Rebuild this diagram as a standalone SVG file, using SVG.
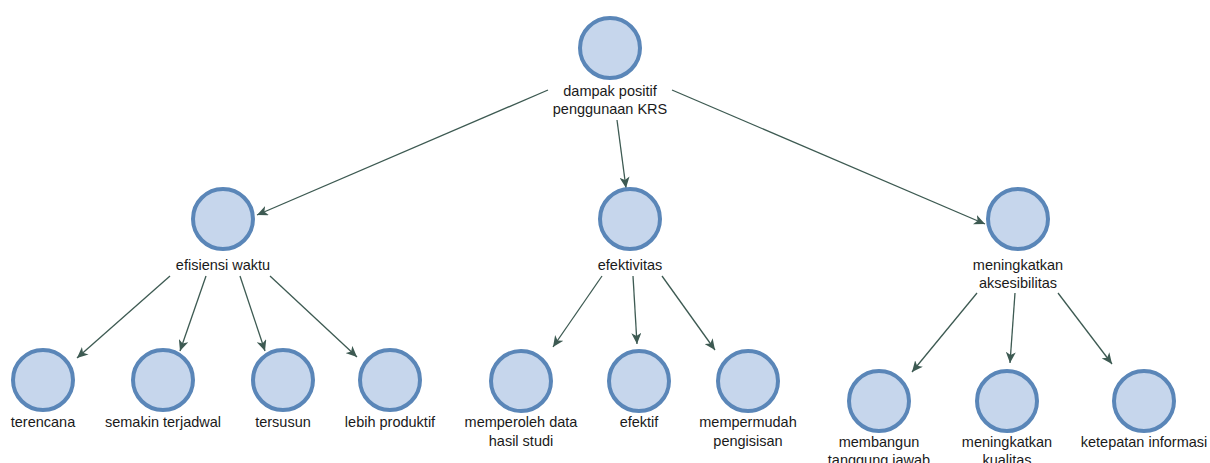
<svg xmlns="http://www.w3.org/2000/svg" width="1210" height="463" viewBox="0 0 1210 463">
<defs>
<style>
.node circle{fill:#c6d6ec;stroke:#5a86b8;stroke-width:4}
.node text{font-family:"Liberation Sans",Arial,sans-serif;font-size:14.5px;fill:#1a1a1a;text-anchor:middle}
.conn line{stroke:#3d5a52;stroke-width:1.3;fill:none;marker-end:url(#arr)}
</style>
<marker id="arr" markerUnits="userSpaceOnUse" markerWidth="12" markerHeight="10" refX="11" refY="5" orient="auto">
<path d="M0,0 L11,5 L0,10 L3,5 z" fill="#3d5a52"/>
</marker>
</defs>
<rect width="1210" height="463" fill="#ffffff"/>
<g id="connectors" class="conn">
<line x1="548" y1="90" x2="257" y2="215"/>
<line x1="617" y1="120" x2="626" y2="188"/>
<line x1="672" y1="90" x2="985" y2="224"/>
<line x1="170" y1="276" x2="77" y2="358"/>
<line x1="206" y1="276" x2="180" y2="351"/>
<line x1="240" y1="276" x2="265" y2="351"/>
<line x1="270" y1="276" x2="357" y2="357"/>
<line x1="602" y1="276" x2="553" y2="347"/>
<line x1="633" y1="276" x2="637" y2="344"/>
<line x1="662" y1="276" x2="715" y2="350"/>
<line x1="977" y1="293" x2="912" y2="372"/>
<line x1="1015" y1="293" x2="1010" y2="363"/>
<line x1="1058" y1="293" x2="1112" y2="364"/>
</g>
<g id="root" class="node"><circle cx="610" cy="48" r="30"/><text x="610" y="96">dampak positif</text><text x="610" y="114">penggunaan KRS</text></g>
<g id="efisiensi" class="node"><circle cx="223" cy="219" r="30"/><text x="223" y="270">efisiensi waktu</text></g>
<g id="efektivitas" class="node"><circle cx="630" cy="219" r="30"/><text x="630" y="270">efektivitas</text></g>
<g id="meningkatkan" class="node"><circle cx="1018" cy="219" r="30"/><text x="1018" y="270">meningkatkan</text><text x="1018" y="288">aksesibilitas</text></g>
<g id="terencana" class="node"><circle cx="43" cy="380" r="30"/><text x="43" y="427">terencana</text></g>
<g id="semakin" class="node"><circle cx="163" cy="380" r="30"/><text x="163" y="427">semakin terjadwal</text></g>
<g id="tersusun" class="node"><circle cx="283" cy="380" r="30"/><text x="283" y="427">tersusun</text></g>
<g id="lebih" class="node"><circle cx="390" cy="380" r="30"/><text x="390" y="427">lebih produktif</text></g>
<g id="memperoleh" class="node"><circle cx="521" cy="381" r="30"/><text x="521" y="427">memperoleh data</text><text x="521" y="446">hasil studi</text></g>
<g id="efektif" class="node"><circle cx="639" cy="381" r="30"/><text x="639" y="427">efektif</text></g>
<g id="mempermudah" class="node"><circle cx="748" cy="381" r="30"/><text x="748" y="427">mempermudah</text><text x="748" y="446">pengisisan</text></g>
<g id="membangun" class="node"><circle cx="879" cy="401" r="30"/><text x="879" y="447">membangun</text><text x="879" y="465">tanggung jawab</text></g>
<g id="kualitas" class="node"><circle cx="1007" cy="401" r="30"/><text x="1007" y="447">meningkatkan</text><text x="1007" y="465">kualitas</text></g>
<g id="ketepatan" class="node"><circle cx="1144" cy="401" r="30"/><text x="1144" y="447">ketepatan informasi</text></g>
</svg>
